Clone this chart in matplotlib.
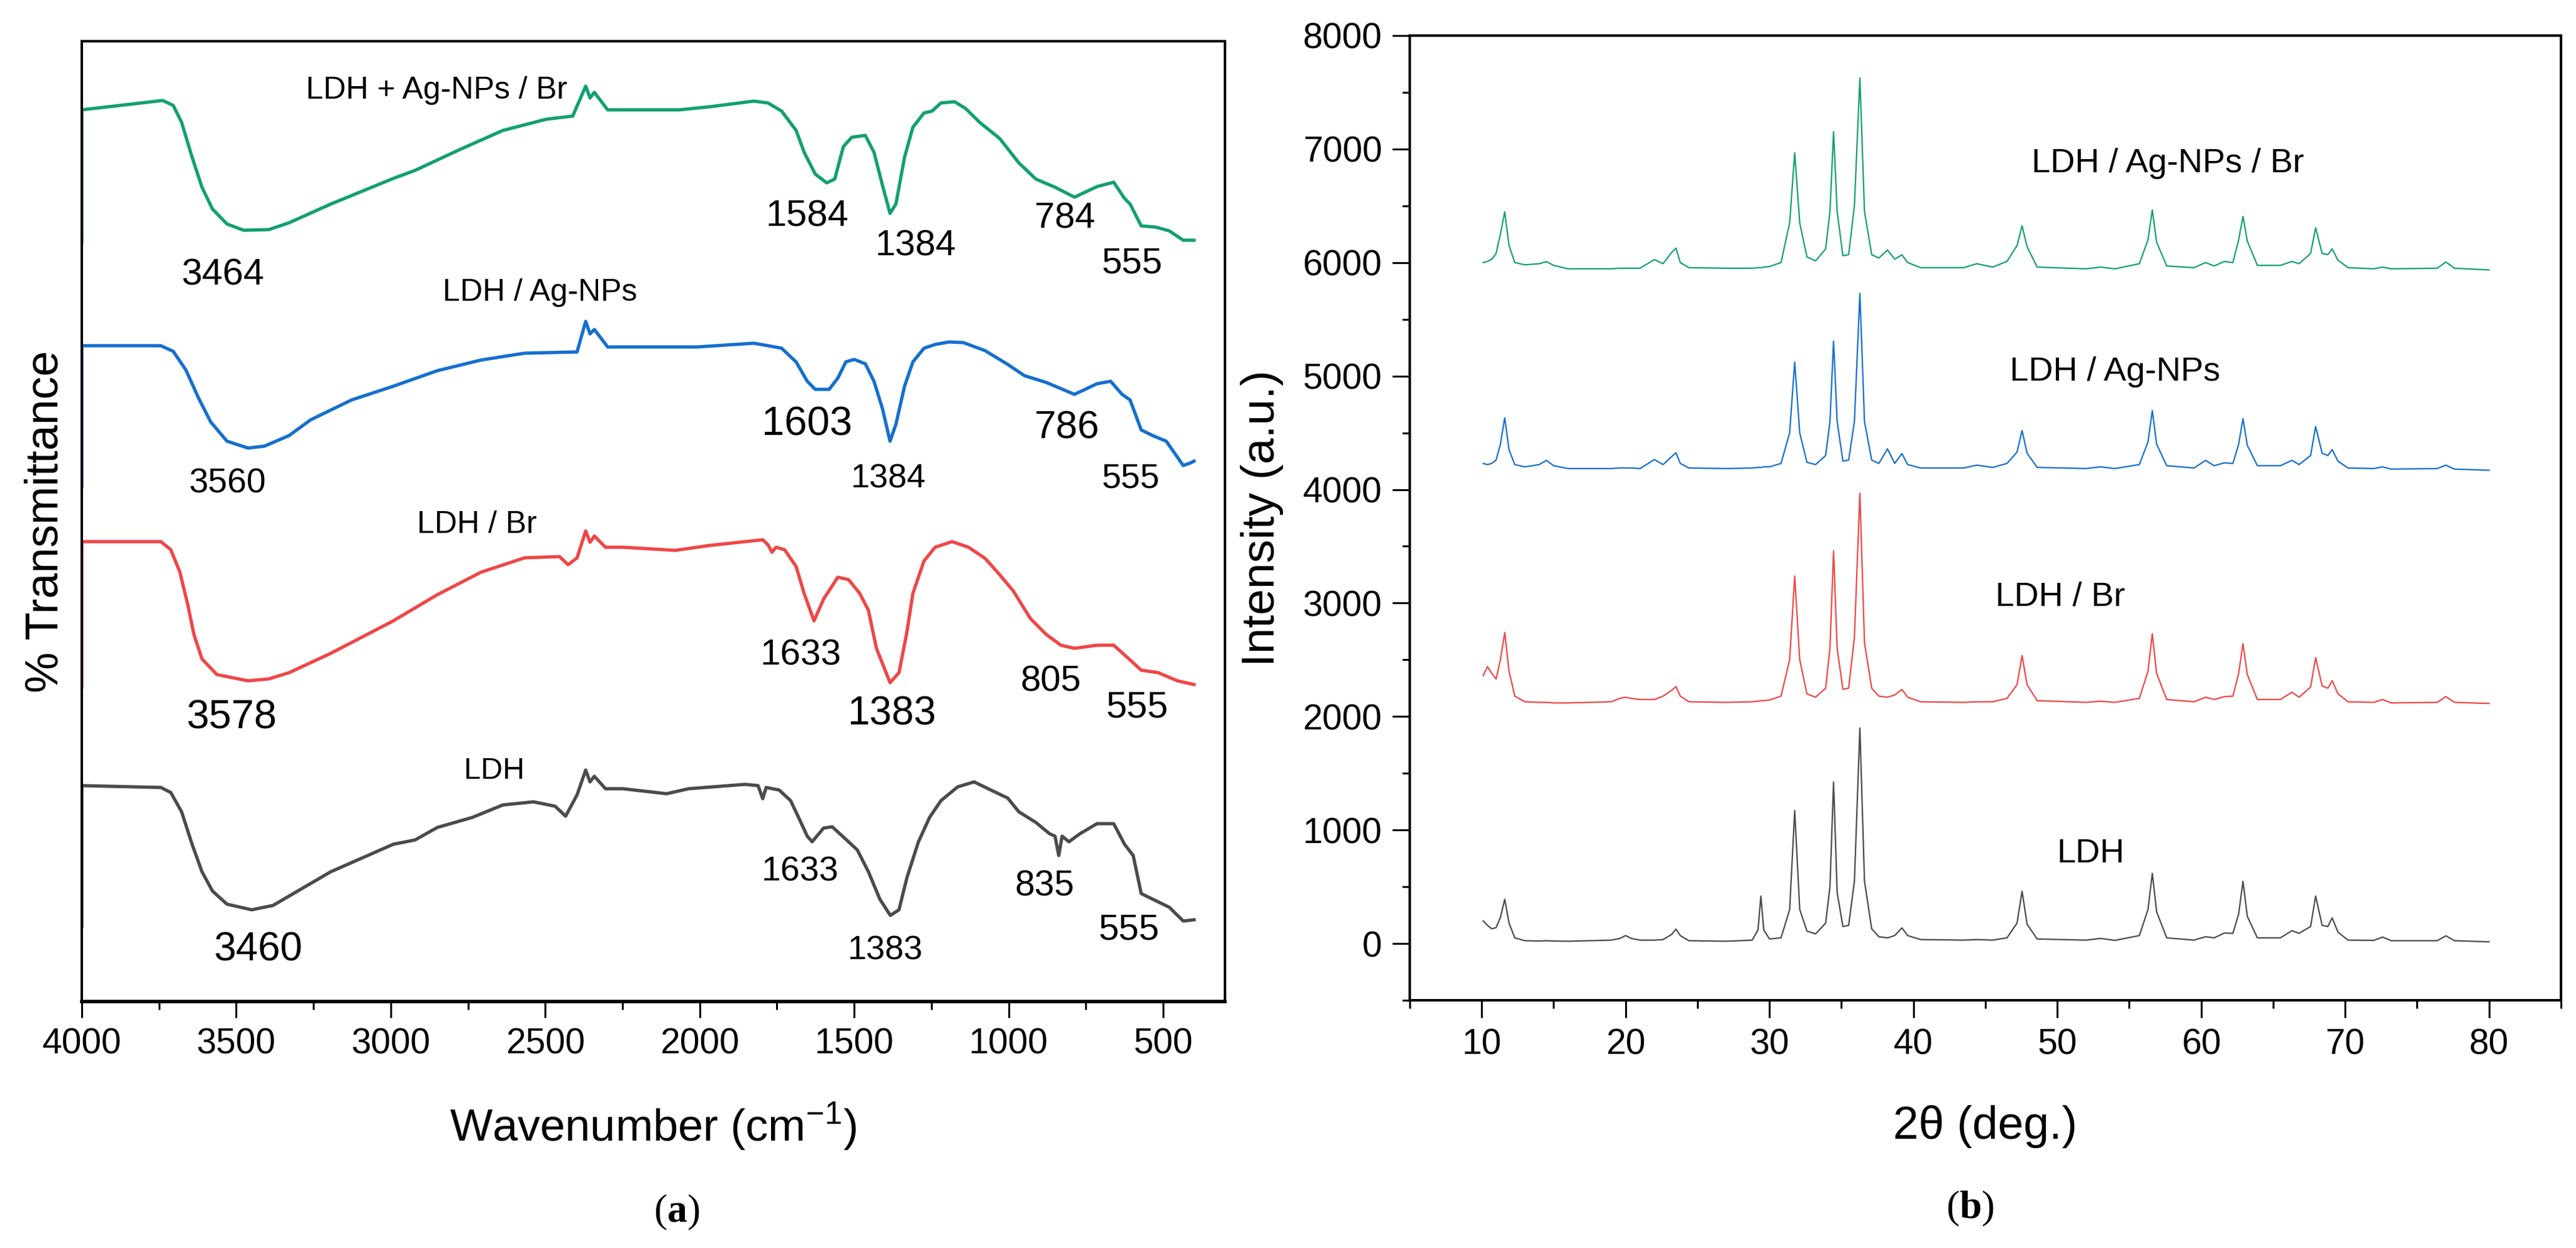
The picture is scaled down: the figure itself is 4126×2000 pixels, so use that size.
import matplotlib
matplotlib.use("Agg")
import matplotlib.pyplot as plt
from matplotlib.ticker import MultipleLocator

plt.rcParams["font.family"] = ["Liberation Sans", "DejaVu Sans"]
plt.rcParams["mathtext.fontset"] = "custom"
plt.rcParams["mathtext.rm"] = "Liberation Sans"
plt.rcParams["mathtext.bf"] = "Liberation Serif:bold"

# ---------------- FTIR (panel a), arbitrary offset transmittance ----------------
wn_g = [4000, 4000, 3738, 3704, 3677, 3643, 3611, 3577, 3530, 3476,
        3395, 3329, 3194, 2992, 2921, 2778, 2637, 2496, 2411, 2369,
        2355, 2341, 2298, 2248, 2065, 1966, 1825, 1779, 1735, 1688,
        1662, 1626, 1589, 1563, 1535, 1508, 1464, 1436, 1409, 1384,
        1365, 1337, 1310, 1274, 1248, 1219, 1175, 1139, 1094, 1029,
        967, 912, 850, 787, 714, 660, 625, 607, 571, 524,
        480, 435, 400]
t_g = [121.7, 142.9, 144.4, 143.6, 140.9, 135.3, 130.5, 127.0, 124.6, 123.6,
       123.7, 124.8, 127.8, 131.9, 133.2, 136.5, 139.6, 141.4, 141.9, 146.7,
       144.8, 145.7, 142.9, 142.9, 142.9, 143.4, 144.3, 144.0, 142.7, 139.6,
       136.1, 132.6, 131.2, 131.8, 137.0, 138.5, 138.8, 136.1, 130.9, 126.3,
       127.8, 135.3, 140.1, 142.4, 142.7, 144.0, 144.2, 143.1, 140.9, 138.3,
       134.4, 131.8, 130.5, 128.9, 130.6, 131.3, 128.7, 127.8, 124.3, 124.1,
       123.5, 122.0, 122.0]

wn_b = [4000, 4000, 3744, 3704, 3663, 3623, 3583, 3530, 3462, 3409,
        3329, 3260, 3127, 2992, 2849, 2708, 2567, 2397, 2369, 2355,
        2341, 2298, 2248, 2008, 1825, 1779, 1735, 1688, 1652, 1626,
        1581, 1553, 1527, 1500, 1464, 1436, 1409, 1384, 1365, 1337,
        1310, 1274, 1238, 1193, 1147, 1076, 1003, 949, 878, 787,
        714, 670, 633, 607, 571, 534, 490, 435, 412, 400]
t_b = [82.5, 105.1, 105.1, 104.2, 101.2, 96.8, 92.9, 89.8, 88.7, 89.0,
       90.7, 93.2, 96.4, 98.6, 101.1, 102.8, 103.9, 104.1, 109.0, 107.0,
       107.7, 104.9, 104.9, 104.9, 105.5, 105.1, 104.7, 102.5, 99.4, 98.1,
       98.1, 99.9, 102.5, 102.9, 102.2, 99.4, 95.1, 89.8, 92.5, 98.6,
       102.5, 104.7, 105.3, 105.7, 105.6, 104.3, 102.1, 100.3, 99.2, 97.3,
       99.0, 99.4, 97.3, 96.4, 91.6, 90.7, 89.8, 85.9, 86.3, 86.6]

wn_r = [4000, 4000, 3744, 3712, 3683, 3657, 3637, 3611, 3563, 3462,
        3395, 3329, 3194, 2992, 2849, 2708, 2567, 2454, 2426, 2397,
        2369, 2355, 2341, 2305, 2248, 2079, 1966, 1796, 1779, 1766,
        1753, 1725, 1688, 1662, 1630, 1599, 1553, 1518, 1482, 1454,
        1428, 1384, 1355, 1329, 1310, 1274, 1238, 1183, 1130, 1076,
        1029, 985, 930, 878, 831, 787, 714, 660, 615, 571,
        516, 454, 400]
t_r = [50.4, 73.7, 73.7, 72.4, 68.9, 63.6, 58.8, 54.9, 52.4, 51.4,
       51.7, 52.7, 55.8, 61.0, 65.2, 68.8, 71.1, 71.3, 70.0, 71.1,
       75.4, 73.6, 74.6, 72.8, 72.8, 72.3, 73.1, 74.0, 73.2, 72.0,
       72.8, 72.4, 69.7, 65.4, 61.0, 64.5, 68.0, 67.6, 65.4, 62.7,
       56.6, 51.1, 52.7, 59.3, 65.4, 70.6, 72.8, 73.7, 72.8, 71.0,
       68.4, 65.8, 61.4, 58.8, 57.1, 56.6, 57.1, 57.1, 55.1, 53.1,
       52.7, 51.4, 50.8]

wn_k = [4000, 4000, 3744, 3712, 3677, 3643, 3611, 3577, 3530, 3450,
        3381, 3329, 3194, 2992, 2921, 2849, 2736, 2637, 2538, 2468,
        2434, 2397, 2369, 2355, 2341, 2305, 2248, 2107, 2036, 1853,
        1811, 1796, 1785, 1743, 1706, 1680, 1652, 1636, 1599, 1571,
        1527, 1490, 1454, 1417, 1383, 1355, 1329, 1292, 1256, 1219,
        1165, 1112, 1058, 1003, 967, 912, 868, 850, 838, 827,
        805, 769, 714, 660, 625, 597, 571, 534, 480, 435,
        400]
t_k = [12.1, 34.6, 34.3, 33.5, 30.4, 25.2, 20.8, 17.7, 15.6, 14.7,
       15.4, 16.9, 20.8, 25.2, 25.9, 27.9, 29.5, 31.5, 32.0, 31.3,
       29.7, 33.1, 37.1, 35.2, 36.1, 34.1, 34.1, 33.3, 34.1, 34.8,
       34.6, 32.5, 34.3, 33.9, 32.2, 29.5, 26.5, 25.6, 27.8, 28.0,
       26.0, 24.3, 20.8, 16.4, 13.8, 14.7, 19.9, 25.6, 29.5, 32.2,
       34.4, 35.2, 33.9, 32.6, 30.4, 28.7, 26.9, 26.5, 23.4, 26.5,
       25.6, 26.9, 28.5, 28.5, 25.2, 23.4, 17.3, 16.4, 15.1, 12.9,
       13.1]

# ---------------- XRD (panel b) ----------------
two_theta = [10.1, 10.4, 10.7, 11.0, 11.3, 11.6, 11.9, 12.3, 13.0, 14.0,
             14.5, 15.0, 16.0, 19.0, 19.6, 20.0, 20.4, 21.0, 22.0, 22.6,
             23.2, 23.5, 23.8, 24.4, 27.0, 28.8, 29.2, 29.4, 29.6, 30.0,
             30.8, 31.4, 31.75, 32.1, 32.6, 33.2, 33.9, 34.2, 34.45, 34.7,
             35.1, 35.5, 35.9, 36.28, 36.6, 37.1, 37.6, 38.2, 38.7, 39.2,
             39.6, 40.5, 43.5, 44.4, 45.5, 46.5, 47.2, 47.55, 47.9, 48.6,
             52.0, 53.0, 54.0, 55.7, 56.3, 56.6, 56.9, 57.6, 59.5, 60.3,
             60.9, 61.6, 62.2, 62.6, 62.9, 63.2, 63.9, 65.5, 66.3, 66.8,
             67.6, 67.95, 68.4, 68.8, 69.1, 69.5, 70.2, 72.0, 72.6, 73.2,
             76.4, 77.0, 77.6, 80.0]

xrd_ldh = [200, 160, 130, 140, 230, 390, 180, 50, 25, 22,
           25, 22, 20, 30, 45, 70, 45, 30, 30, 35,
           80, 127, 70, 25, 20, 30, 120, 418, 120, 40,
           50, 300, 1171, 300, 110, 85, 180, 500, 1423, 450,
           150, 160, 550, 1899, 550, 130, 60, 50, 70, 138,
           70, 35, 30, 35, 30, 50, 180, 460, 170, 40,
           30, 45, 28, 70, 300, 618, 280, 50, 30, 60,
           50, 92, 90, 260, 548, 240, 50, 50, 113, 90,
           150, 418, 160, 150, 226, 100, 30, 28, 57, 25,
           25, 68, 25, 15]

xrd_br = [2360, 2440, 2380, 2330, 2500, 2740, 2400, 2180, 2130, 2125,
          2125, 2120, 2120, 2130, 2160, 2170, 2160, 2150, 2150, 2180,
          2230, 2264, 2180, 2130, 2125, 2130, 2135, 2140, 2140, 2145,
          2180, 2500, 3238, 2500, 2200, 2170, 2250, 2600, 3459, 2600,
          2240, 2250, 2700, 3967, 2650, 2250, 2180, 2170, 2190, 2239,
          2170, 2130, 2125, 2130, 2130, 2160, 2280, 2537, 2280, 2140,
          2125, 2135, 2125, 2160, 2400, 2729, 2380, 2150, 2130, 2170,
          2150, 2175, 2180, 2380, 2642, 2370, 2150, 2150, 2215, 2170,
          2260, 2519, 2270, 2250, 2316, 2200, 2130, 2125, 2150, 2120,
          2125, 2176, 2125, 2115]

xrd_ag = [4230, 4220, 4230, 4260, 4400, 4632, 4350, 4220, 4200, 4220,
          4257, 4210, 4185, 4185, 4190, 4190, 4190, 4185, 4264, 4220,
          4290, 4324, 4230, 4190, 4185, 4190, 4195, 4195, 4200, 4200,
          4230, 4500, 5122, 4500, 4240, 4220, 4300, 4600, 5308, 4600,
          4250, 4260, 4600, 5728, 4600, 4260, 4230, 4359, 4230, 4317,
          4220, 4190, 4190, 4215, 4195, 4230, 4330, 4520, 4320, 4195,
          4185, 4200, 4185, 4220, 4420, 4695, 4400, 4210, 4190, 4257,
          4210, 4235, 4230, 4400, 4625, 4390, 4210, 4210, 4257, 4220,
          4300, 4555, 4320, 4300, 4352, 4250, 4190, 4185, 4200, 4180,
          4185, 4215, 4180, 4170]

xrd_ag_br = [6000, 6010, 6030, 6080, 6250, 6446, 6150, 6000, 5980, 5990,
             6008, 5975, 5945, 5945, 5950, 5950, 5950, 5950, 6026, 5990,
             6090, 6127, 6000, 5955, 5950, 5950, 5955, 5955, 5960, 5965,
             6000, 6350, 6968, 6350, 6050, 6015, 6120, 6450, 7153, 6450,
             6060, 6070, 6500, 7626, 6450, 6070, 6040, 6110, 6030, 6068,
             6000, 5955, 5955, 5990, 5960, 6010, 6150, 6323, 6140, 5960,
             5945, 5960, 5945, 5990, 6200, 6463, 6180, 5970, 5955, 6000,
             5970, 6010, 6000, 6200, 6407, 6190, 5975, 5975, 6010, 5990,
             6080, 6306, 6080, 6070, 6120, 6020, 5955, 5945, 5960, 5945,
             5950, 6005, 5950, 5935]

GREEN = "#12a06f"
BLUE = "#156fcf"
RED = "#f04646"
GRAY = "#4b4b4b"

fig = plt.figure(figsize=(41.26, 20), dpi=100)

# ---------------- panel (a) ----------------
ax1 = fig.add_axes([0.03175, 0.1975, 0.44377, 0.7695])
lw = 3.8
for x, y, c in [(wn_g, t_g, GREEN), (wn_b, t_b, BLUE), (wn_r, t_r, RED), (wn_k, t_k, GRAY)]:
    ax1.plot(x, y, color=c, lw=lw, solid_joinstyle="round")
ax1.set_xlim(4000, 300)
ax1.set_ylim(0, 153.9)
ax1.xaxis.set_major_locator(MultipleLocator(500))
ax1.xaxis.set_minor_locator(MultipleLocator(250))
ax1.set_yticks([])
ax1.tick_params(axis="x", which="major", direction="out", length=19, width=2.2,
                labelsize=41, pad=11, top=False)
ax1.tick_params(axis="x", which="minor", direction="out", length=9, width=2.2, top=False)
for s in ax1.spines.values():
    s.set_linewidth(2.9)
ax1.spines["bottom"].set_linewidth(4)

ax1.set_xlabel("Wavenumber (cm$^{-1}$)", fontsize=52, va="center")
ax1.xaxis.set_label_coords(0.5, -0.130)
ax1.set_ylabel("% Transmittance", fontsize=53, va="center")
ax1.yaxis.set_label_coords(-0.0317, 0.5)

ftir_notes = [
    ("LDH + Ag-NPs / Br", 2851, 146.0, 36), ("3464", 3542, 116.4, 43),
    ("1584", 1653, 125.8, 43), ("1384", 1301, 121.0, 42),
    ("784", 819, 125.4, 42), ("555", 601, 118.3, 42),
    ("LDH / Ag-NPs", 2518, 113.6, 36), ("3560", 3528, 82.9, 40),
    ("1603", 1653, 92.4, 47), ("1384", 1389, 83.7, 39),
    ("786", 811, 91.9, 45), ("555", 605, 83.7, 40),
    ("LDH / Br", 2722, 76.4, 36), ("3578", 3514, 45.4, 47),
    ("1633", 1672, 55.5, 42), ("1383", 1379, 46.1, 46),
    ("805", 863, 51.3, 42), ("555", 583, 47.1, 43),
    ("LDH", 2665, 36.9, 35), ("3460", 3429, 8.3, 46),
    ("1633", 1676, 20.8, 40), ("1383", 1399, 8.1, 39),
    ("835", 883, 18.4, 41), ("555", 611, 11.4, 42),
]
for txt, x, y, fs in ftir_notes:
    ax1.text(x, y, txt, fontsize=fs, ha="center", va="center")

# ---------------- panel (b) ----------------
ax2 = fig.add_axes([0.54726, 0.1985, 0.44692, 0.773])
lw2 = 1.6
ax2.plot(two_theta, xrd_ldh, color=GRAY, lw=lw2)
ax2.plot(two_theta, xrd_br, color=RED, lw=lw2)
ax2.plot(two_theta, xrd_ag, color=BLUE, lw=lw2)
ax2.plot(two_theta, xrd_ag_br, color=GREEN, lw=lw2)
ax2.set_xlim(5, 85)
ax2.set_ylim(-500, 8000)
ax2.xaxis.set_major_locator(MultipleLocator(10))
ax2.xaxis.set_minor_locator(MultipleLocator(5))
ax2.yaxis.set_major_locator(MultipleLocator(1000))
ax2.yaxis.set_minor_locator(MultipleLocator(500))
ax2.tick_params(which="major", direction="out", length=20, width=2.2,
                labelsize=41, top=False, right=False)
ax2.tick_params(which="minor", direction="out", length=9, width=2.2,
                top=False, right=False)
ax2.tick_params(axis="x", which="major", pad=12)
ax2.tick_params(axis="y", which="major", pad=12)
for s in ax2.spines.values():
    s.set_linewidth(2.9)

ax2.set_xlabel("2θ (deg.)", fontsize=53, va="center")
ax2.xaxis.set_label_coords(0.5, -0.1307)
ax2.set_ylabel("Intensity (a.u.)", fontsize=54, va="center")
ax2.yaxis.set_label_coords(-0.128, 0.5)

xrd_notes = [
    ("LDH / Ag-NPs / Br", 57.7, 6875), ("LDH / Ag-NPs", 54.0, 5036),
    ("LDH / Br", 50.2, 3053), ("LDH", 52.3, 791),
]
for txt, x, y in xrd_notes:
    ax2.text(x, y, txt, fontsize=39, ha="center", va="center")

fig.text(0.2627, 0.0285, r"($\mathbf{a}$)", family="Liberation Serif",
         fontsize=46, ha="center", va="center")
fig.text(0.7649, 0.0315, r"($\mathbf{b}$)", family="Liberation Serif",
         fontsize=46, ha="center", va="center")

fig.savefig("out.png", dpi=100, facecolor="white")
